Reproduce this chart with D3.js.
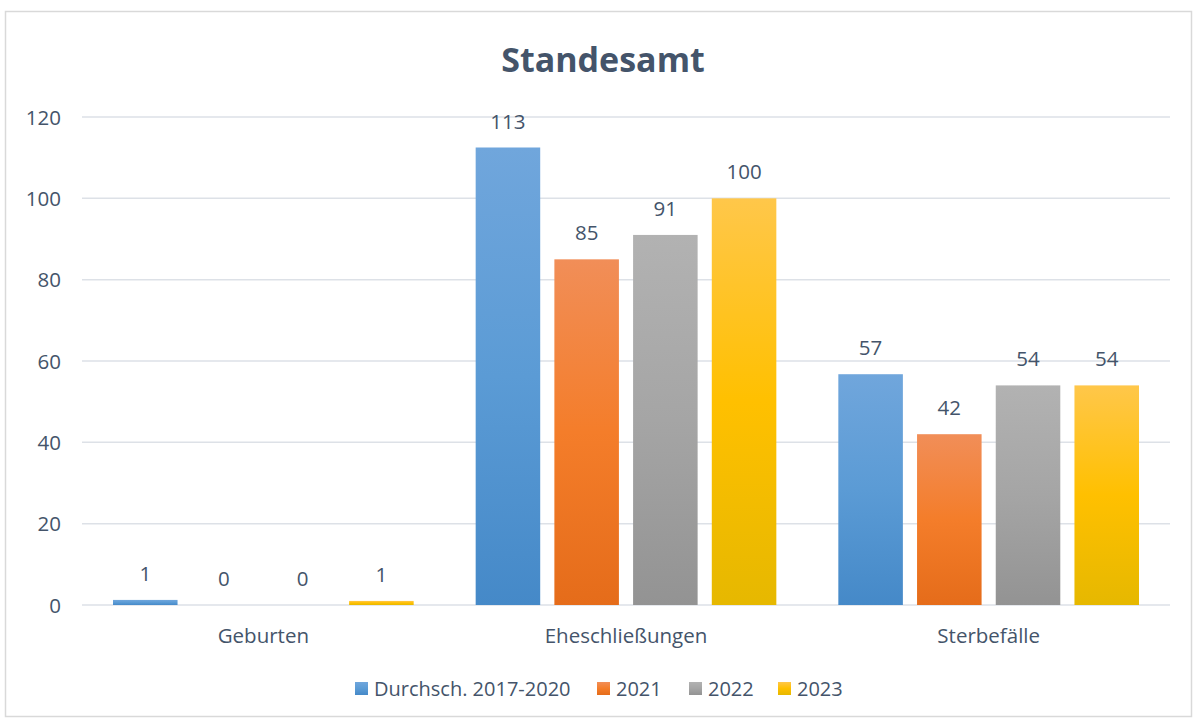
<!DOCTYPE html>
<html><head><meta charset="utf-8">
<script src="https://cdn.jsdelivr.net/npm/d3@7"></script>
<style>body{margin:0;background:#fff}svg{display:block}text{font-family:"Open Sans","Noto Sans",sans-serif;fill:#44546a}</style>
</head><body><svg id="c" width="1198" height="718"></svg>
<script>
const categories = ["Geburten", "Eheschließungen", "Sterbefälle"];
const seriesNames = ["Durchsch. 2017-2020", "2021", "2022", "2023"];
const avg1720 = [1.25, 112.5, 56.75];
const y2021 = [0, 85, 42];
const y2022 = [0, 91, 54];
const y2023 = [1, 100, 54];
const yTicks = [0, 20, 40, 60, 80, 100, 120];
const seriesValues = [avg1720, y2021, y2022, y2023];
const colors = [
  ["#70a6dc", "#5b9bd5", "#4589c8"],
  ["#f18e58", "#f47d2a", "#e56c1a"],
  ["#b2b2b2", "#a5a5a5", "#939393"],
  ["#ffc74a", "#ffc000", "#e6b800"]
];

const svg = d3.select("#c");
const W = 1198, H = 718;
const m = {l: 82, r: 28, t: 117, b: 113};
svg.append("rect").attr("x", 5.5).attr("y", 11.5).attr("width", 1186).attr("height", 705)
  .attr("fill", "#fff").attr("stroke", "#d9d9d9").attr("stroke-width", 1.5);

const defs = svg.append("defs");
colors.forEach((c, i) => {
  const g = defs.append("linearGradient").attr("id", "g" + i).attr("x1", 0).attr("x2", 0).attr("y1", 0).attr("y2", 1);
  g.append("stop").attr("offset", "0%").attr("stop-color", c[0]);
  g.append("stop").attr("offset", "50%").attr("stop-color", c[1]);
  g.append("stop").attr("offset", "100%").attr("stop-color", c[2]);
});

const x0 = d3.scaleBand().domain(categories).range([m.l, W - m.r]).paddingInner(0).paddingOuter(0);
const x1 = d3.scaleBand().domain(seriesNames).range([31, x0.bandwidth() - 31]).paddingInner(0.18).paddingOuter(0);
const y = d3.scaleLinear().domain([0, 120]).range([605, 117]);

svg.append("g").selectAll("line").data(yTicks).join("line")
  .attr("x1", m.l).attr("x2", W - m.r).attr("y1", d => y(d)).attr("y2", d => y(d))
  .attr("stroke", "#dde1e7").attr("stroke-width", 1.5);

const yAxis = d3.axisLeft(y).tickValues(yTicks).tickSize(0).tickPadding(0);
const ya = svg.append("g").attr("transform", `translate(61,0)`).call(yAxis);
ya.select(".domain").remove();
ya.selectAll("text").attr("font-size", 20.5).style("font-family", '"Open Sans","Noto Sans",sans-serif').attr("fill", "#44546a").attr("dy", "0.35em");

const xAxis = d3.axisBottom(x0).tickSize(0).tickPadding(0);
const xa = svg.append("g").attr("transform", `translate(0,628)`).call(xAxis);
xa.select(".domain").remove();
xa.selectAll("text").attr("font-size", 20.5).style("font-family", '"Open Sans","Noto Sans",sans-serif').attr("fill", "#44546a").attr("dy", "0.71em");

const groups = svg.append("g").selectAll("g").data(categories).join("g")
  .attr("transform", d => `translate(${x0(d)},0)`);
groups.each(function(cat, ci) {
  const g = d3.select(this);
  seriesNames.forEach((s, si) => {
    const v = seriesValues[si][ci];
    g.append("rect").attr("x", x1(s)).attr("width", x1.bandwidth())
      .attr("y", y(v)).attr("height", y(0) - y(v)).attr("fill", `url(#g${si})`);
    g.append("text").attr("x", x1(s) + x1.bandwidth() / 2).attr("y", y(v) - 19)
      .attr("text-anchor", "middle").attr("font-size", 20.5).text(Math.round(v));
  });
});

svg.append("text").attr("x", 603).attr("y", 72).attr("text-anchor", "middle")
  .attr("font-size", 34).attr("font-weight", "bold").text("Standesamt");

const legX = [355, 597, 689, 778];
const leg = svg.append("g");
seriesNames.forEach((s, i) => {
  leg.append("rect").attr("x", legX[i]).attr("y", 682).attr("width", 13).attr("height", 13).attr("fill", `url(#g${i})`);
  leg.append("text").attr("x", legX[i] + 19).attr("y", 689).attr("dy", "0.35em").attr("font-size", 20).text(s);
});
</script></body></html>
